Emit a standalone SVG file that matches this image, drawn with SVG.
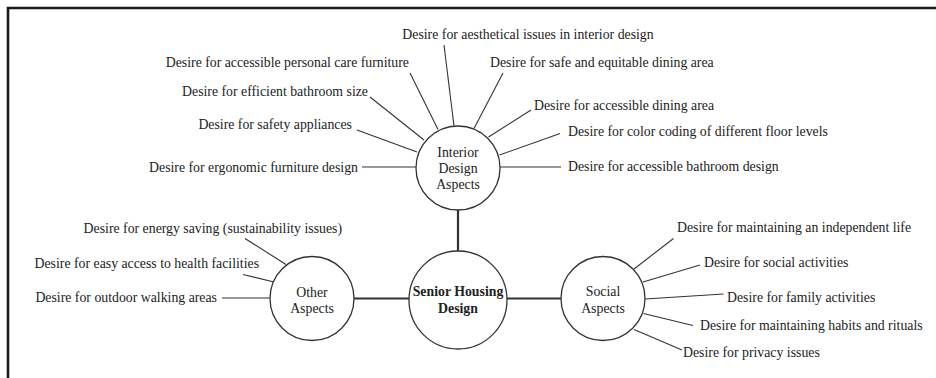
<svg xmlns="http://www.w3.org/2000/svg" width="936" height="378" viewBox="0 0 936 378">
<style>
text{font-family:"Liberation Serif","Times New Roman",serif;font-size:13.8px;fill:#222}
.e{text-anchor:end}
.m{text-anchor:middle}
.b{font-weight:bold}
.n{fill:#fff;stroke:#333;stroke-width:1.3}
.l{stroke:#333;stroke-width:1.1;fill:none}
.t{stroke:#333;stroke-width:2.2;fill:none}
.f{stroke:#1a1a1a;stroke-width:2.6;fill:none}
</style>
<rect width="936" height="378" fill="#fff"/>
<path class="f" d="M8 378V8H936"/>
<g id="connectors">
<line class="t" x1="458" y1="209" x2="458" y2="251"/>
<line class="t" x1="354" y1="298.5" x2="409" y2="298.5"/>
<line class="t" x1="507" y1="298.5" x2="561" y2="298.5"/>
<line class="l" x1="444" y1="45" x2="454" y2="126"/>
<line class="l" x1="410" y1="73" x2="438" y2="129.5"/>
<line class="l" x1="370" y1="97" x2="424" y2="140"/>
<line class="l" x1="357" y1="130" x2="417" y2="152"/>
<line class="l" x1="362" y1="167" x2="416" y2="167"/>
<line class="l" x1="503" y1="73" x2="474" y2="128.5"/>
<line class="l" x1="531" y1="110" x2="488.5" y2="137"/>
<line class="l" x1="560" y1="133.5" x2="499.5" y2="155"/>
<line class="l" x1="561" y1="167" x2="500" y2="167"/>
<line class="l" x1="245" y1="238.5" x2="286" y2="264.5"/>
<line class="l" x1="243" y1="274.5" x2="274" y2="282"/>
<line class="l" x1="222" y1="298" x2="270" y2="298"/>
<line class="l" x1="673.5" y1="238.5" x2="634" y2="269"/>
<line class="l" x1="700" y1="265" x2="643" y2="282"/>
<line class="l" x1="723.5" y1="294" x2="645" y2="299"/>
<line class="l" x1="693" y1="325.5" x2="643.5" y2="313.5"/>
<line class="l" x1="682" y1="350" x2="634" y2="329.5"/>
</g>
<g id="interior">
<circle class="n" cx="458" cy="168" r="42"/>
<text class="m" x="458" y="157">Interior</text>
<text class="m" x="458" y="172.5">Design</text>
<text class="m" x="458" y="189">Aspects</text>
</g>
<g id="senior">
<circle class="n" cx="458" cy="300" r="49"/>
<text class="m b" x="458" y="296">Senior Housing</text>
<text class="m b" x="458" y="312.5">Design</text>
</g>
<g id="other">
<circle class="n" cx="312" cy="298.5" r="42"/>
<text class="m" x="312" y="297">Other</text>
<text class="m" x="312" y="312.5">Aspects</text>
</g>
<g id="social">
<circle class="n" cx="603" cy="298.5" r="42"/>
<text class="m" x="603" y="296">Social</text>
<text class="m" x="603" y="312.5">Aspects</text>
</g>
<g id="i-aesthetical"><text class="m" x="528" y="38.5">Desire for aesthetical issues in interior design</text></g>
<g id="i-personal-care"><text class="e" x="409" y="67">Desire for accessible personal care furniture</text></g>
<g id="i-bathroom-size"><text class="e" x="368" y="95.5">Desire for efficient bathroom size</text></g>
<g id="i-safety"><text class="e" x="352" y="128.5">Desire for safety appliances</text></g>
<g id="i-ergonomic"><text class="e" x="358" y="172">Desire for ergonomic furniture design</text></g>
<g id="i-safe-dining"><text x="490" y="67">Desire for safe and equitable dining area</text></g>
<g id="i-accessible-dining"><text x="534" y="110">Desire for accessible dining area</text></g>
<g id="i-color-coding"><text x="568" y="136">Desire for color coding of different floor levels</text></g>
<g id="i-accessible-bathroom"><text x="568" y="170.5">Desire for accessible bathroom design</text></g>
<g id="o-energy"><text class="e" x="342" y="232.5">Desire for energy saving (sustainability issues)</text></g>
<g id="o-health"><text class="e" x="259" y="267.5">Desire for easy access to health facilities</text></g>
<g id="o-outdoor"><text class="e" x="217" y="302">Desire for outdoor walking areas</text></g>
<g id="s-independent"><text x="677" y="231.5">Desire for maintaining an independent life</text></g>
<g id="s-social"><text x="704" y="266.5">Desire for social activities</text></g>
<g id="s-family"><text x="727" y="301.5">Desire for family activities</text></g>
<g id="s-habits"><text x="700" y="329.5">Desire for maintaining habits and rituals</text></g>
<g id="s-privacy"><text x="683" y="357">Desire for privacy issues</text></g>
</svg>
